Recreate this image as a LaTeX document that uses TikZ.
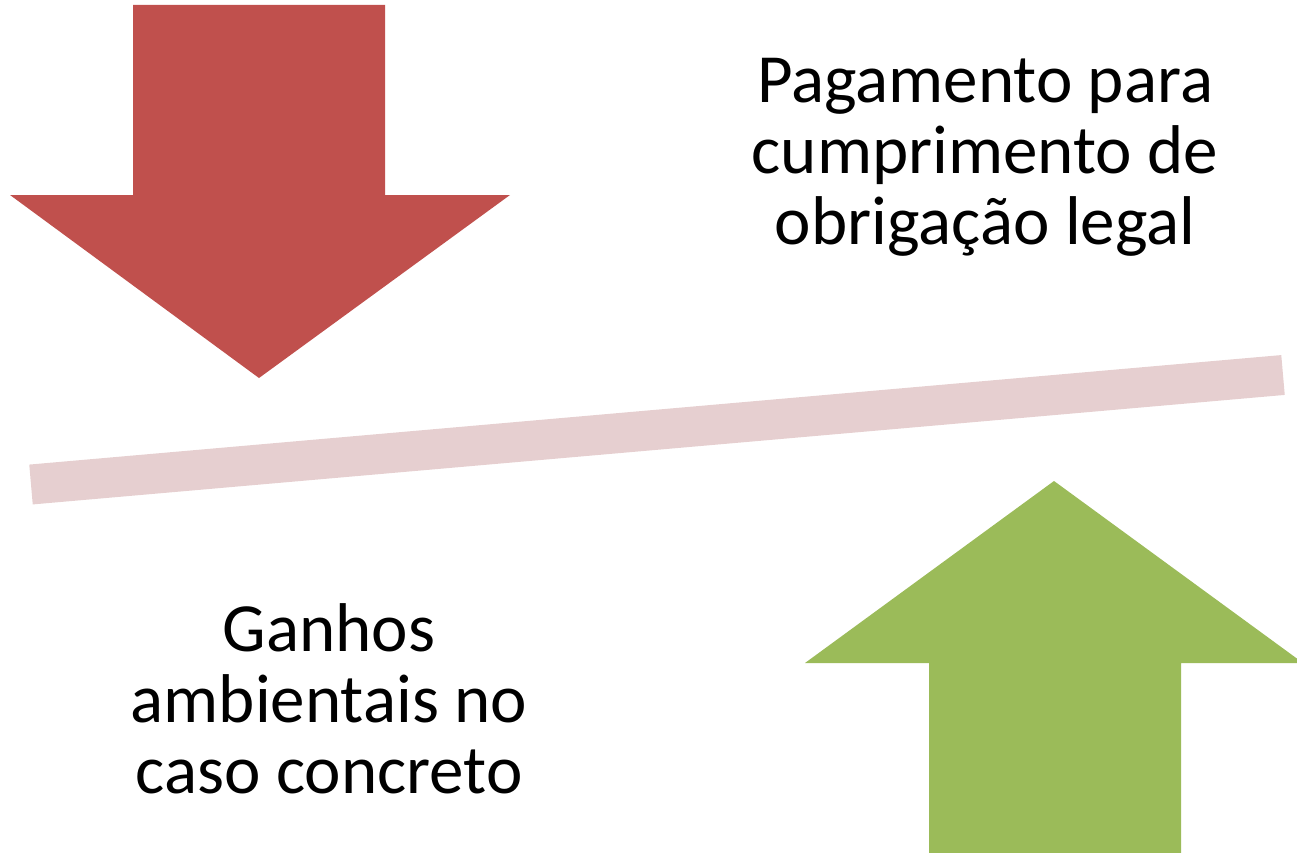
\documentclass[tikz,border=0pt]{standalone}
\usepackage{fontspec}
\setmainfont{Carlito}
\usepackage{tikz}
\usetikzlibrary{positioning}

\definecolor{downred}{RGB}{192,80,77}
\definecolor{upgreen}{RGB}{155,187,89}
\definecolor{beampink}{RGB}{230,207,208}

\begin{document}
\begin{tikzpicture}
[x=1pt,y=-1pt]
\tikzset{
	bigtext/.style = {align=center, inner sep=0, font=\fontsize{69}{71}\selectfont},
	beam/.style = {line width=40pt, draw=beampink},
	arrowshape/.style = {draw=none}
}
\useasboundingbox (0,0) rectangle (1297,853);
\clip (0,0) rectangle (1297,853);

% balance beam
\coordinate (beamL) at (31,484.5);
\coordinate (beamR) at (1283,375);
\draw [beam] (beamL) -- (beamR);

% weight pressing down
\fill [arrowshape, fill=downred] (133,5) -- (385,5) -- (385,195) -- (510,195)
	-- (259,378) -- (10,195) -- (133,195) -- cycle;

% gain pushing up
\fill [arrowshape, fill=upgreen] (1054,481) -- (1303,663) -- (1181,663) -- (1181,860)
	-- (929,860) -- (929,663) -- (805,663) -- cycle;

\node (pagamento) [bigtext, anchor=base] at (985,244)
	{Pagamento para\\cumprimento de\\obrigação legal};
\node (ganhos) [bigtext, anchor=base] at (329,793)
	{Ganhos\\ambientais no\\caso concreto};
\end{tikzpicture}
\end{document}
